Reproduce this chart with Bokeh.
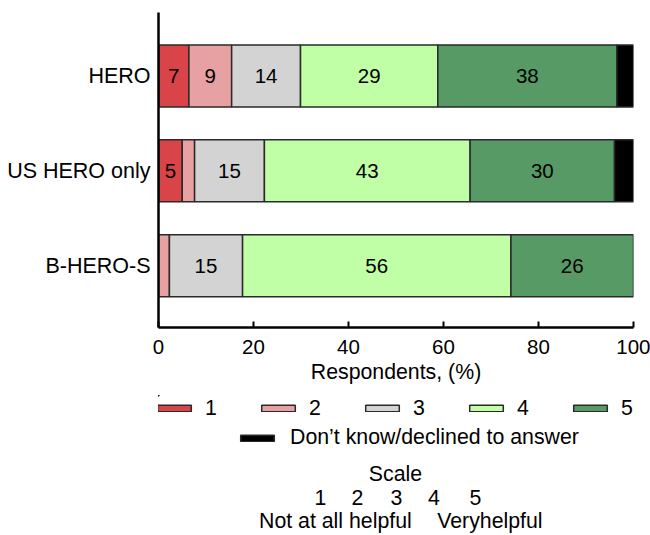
import numpy as np
from bokeh.plotting import figure
from bokeh.layouts import column
from bokeh.models import ColumnDataSource, Range1d, FixedTicker, Legend, LegendItem, Label
from bokeh.core.properties import value
from bokeh.embed import file_html
from bokeh.resources import INLINE

# ---------------- data ----------------
categories = ["HERO", "US HERO only", "B-HERO-S"]
levels = ["1", "2", "3", "4", "5", "Don\u2019t know/declined to answer"]
level_1 = [6.4, 5.0, 0.0]
level_2 = [9.0, 2.6, 2.3]
level_3 = [14.5, 14.7, 15.4]
level_4 = [28.9, 43.3, 56.5]
level_5 = [37.7, 30.4, 25.8]
dont_know = [3.5, 4.0, 0.0]
labels_1 = ["7", "5", ""]
labels_2 = ["9", "", ""]
labels_3 = ["14", "15", "15"]
labels_4 = ["29", "43", "56"]
labels_5 = ["38", "30", "26"]
labels_dk = ["", "", ""]
x_ticks = [0, 20, 40, 60, 80, 100]
x_title = "Respondents, (%)"
scale_title = "Scale"
scale_points = ["1", "2", "3", "4", "5"]
scale_low = "Not at all helpful"
scale_high = "Veryhelpful"

# ---------------- style ----------------
colors = ["#D94449", "#E8A1A3", "#D3D3D3", "#C0FFA5", "#579A66", "#000000"]
EDGE = "#2a2a2a"
FONT = "Liberation Sans"
TXT = "21.3px"

series = [level_1, level_2, level_3, level_4, level_5, dont_know]
label_sets = [labels_1, labels_2, labels_3, labels_4, labels_5, labels_dk]
ypos = np.arange(len(categories))[::-1].astype(float)

W = 650
H1 = 395
H2 = 140
LEFT = 158
RIGHT_PAD = 17

p = figure(width=W, height=H1, x_range=Range1d(0, 100), y_range=Range1d(-0.652, 2.669),
           output_backend="svg", toolbar_location=None,
           min_border_left=LEFT, min_border_right=RIGHT_PAD, min_border_top=12,
           min_border_bottom=H1 - 327)
p.outline_line_color = None
p.xgrid.visible = False
p.ygrid.visible = False

# ---------------- legend + scale panel (frame aligned with main plot) ----------------
p2 = figure(width=W, height=H2, x_range=Range1d(LEFT, W - RIGHT_PAD), y_range=Range1d(H1 + H2, H1),
            output_backend="svg", toolbar_location=None, x_axis_location=None, y_axis_location=None,
            min_border_left=LEFT, min_border_right=RIGHT_PAD, min_border_top=0, min_border_bottom=0)
p2.outline_line_color = None
p2.xgrid.visible = False
p2.ygrid.visible = False

cum = np.zeros(len(categories))
swatches = []
for vals, labs, col in zip(series, label_sets, colors):
    vals = np.array(vals, dtype=float)
    left = cum.copy()
    right = cum + vals
    cum = right
    mask = vals > 0
    src = ColumnDataSource(dict(y=ypos[mask], left=left[mask], right=right[mask],
                                mid=((left + right) / 2)[mask], txt=np.array(labs)[mask]))
    p.hbar(y="y", left="left", right="right", height=0.653, source=src,
           fill_color=col, line_color=EDGE, line_width=1.5)
    p.text(x="mid", y="y", text="txt", source=src, text_align="center", text_baseline="middle",
           text_font=value(FONT), text_font_size="20.5px", text_color="black")
    # same bars in the legend panel (outside its visible range) -> legend swatches
    swatches.append(p2.hbar(y="y", left="left", right="right", height=0.653, source=src,
                            fill_color=col, line_color=EDGE, line_width=1.5))

# axes
xa = p.xaxis[0]
xa.ticker = FixedTicker(ticks=x_ticks)
xa.major_tick_in = 6
xa.major_tick_out = 0
xa.minor_tick_in = 0
xa.minor_tick_out = 0
xa.major_tick_line_width = 2
xa.major_tick_line_color = "black"
xa.axis_line_width = 2.5
xa.axis_line_color = "black"
xa.major_label_standoff = 12
xa.major_label_text_font = FONT
xa.major_label_text_font_size = "20.5px"
xa.major_label_text_color = "black"
xa.axis_label = x_title
xa.axis_label_text_font = FONT
xa.axis_label_text_font_size = TXT
xa.axis_label_text_font_style = "normal"
xa.axis_label_text_color = "black"
xa.axis_label_standoff = 3

ya = p.yaxis[0]
ya.ticker = FixedTicker(ticks=list(ypos))
ya.major_label_overrides = {int(y): c for y, c in zip(ypos, categories)}
ya.major_tick_in = 0
ya.major_tick_out = 0
ya.minor_tick_in = 0
ya.minor_tick_out = 0
ya.axis_line_width = 2.5
ya.axis_line_color = "black"
ya.major_label_standoff = 8
ya.major_label_text_font = FONT
ya.major_label_text_font_size = "21.5px"
ya.major_label_text_color = "black"

common = dict(orientation="horizontal", glyph_width=42, glyph_height=8,
              label_width=20, padding=0, margin=0, border_line_color=None,
              background_fill_alpha=0, label_text_font=FONT, label_text_font_size=TXT,
              label_text_color="black")
leg1 = Legend(items=[LegendItem(label=value(levels[i]), renderers=[swatches[i]]) for i in range(5)],
              location=(-5, 114.5), label_standoff=10, spacing=32, **common)
leg2 = Legend(items=[LegendItem(label=value(levels[5]), renderers=[swatches[5]])],
              location=(78, 85), label_standoff=12, spacing=32, **common)
p2.add_layout(leg1)
p2.add_layout(leg2)


def add_text(txt, x, y, align):
    p2.add_layout(Label(x=x, y=y, text=txt, text_align=align, text_baseline="middle",
                        text_font=FONT, text_font_size=TXT, text_color="black"))


add_text(scale_title, 395, 473.3, "center")
for t, xx in zip(scale_points, [320, 357, 396, 433.5, 475]):
    add_text(t, xx, 496.7, "center")
add_text(scale_low, 258.5, 520, "left")
add_text(scale_high, 436.7, 520, "left")

open("out.html", "w").write(file_html(column(p, p2, spacing=0), INLINE))
